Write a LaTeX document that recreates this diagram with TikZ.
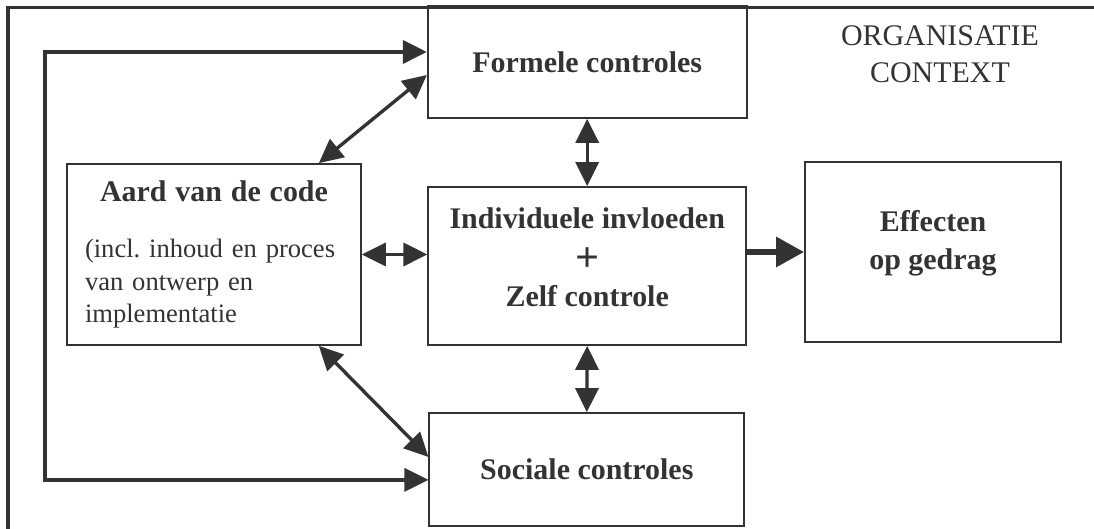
\documentclass[tikz,border=0pt]{standalone}
\usepackage{fontspec}
\setmainfont{Liberation Serif}
\usetikzlibrary{arrows.meta}
\definecolor{ink}{HTML}{333335}

\begin{document}
\begin{tikzpicture}[
  >={Triangle[length=0.6cm,width=0.575cm]},
  box/.style={draw=ink,line width=1.2pt,text=ink,align=center,inner sep=0pt,
    font=\fontsize{21.3}{27.5}\selectfont\bfseries},
  link/.style={draw=ink,line width=2.4pt}
]
\useasboundingbox (0,0) rectangle (27.35,13.225);
% Outer frame, only top and left edge are in view
\draw[ink,line width=2.4pt] (0.2,0) -- (0.2,13.0375) -- (27.35,13.0375);
\node[box,minimum width=7.975cm,minimum height=2.8cm] (formele) at (14.68,11.675) {Formele controles};
\node[box,minimum width=7.95cm,minimum height=3.95cm,text depth=0.45cm] (indiv) at (14.68,6.575)
  {Individuele invloeden\\[3pt]{\fontsize{30}{27.5}\selectfont +}\\[-3pt]Zelf controle};
\node[box,minimum width=7.875cm,minimum height=2.825cm] (sociale) at (14.67,1.4875) {Sociale controles};
\node[box,minimum width=6.4cm,minimum height=4.5cm,text depth=0.6cm] (effect) at (23.325,6.925) {Effecten\\op gedrag};
\node[box,minimum width=7.35cm,minimum height=4.525cm,text width=6.45cm,inner xsep=0.45cm,align=left,
  font=\fontsize{18.9}{23}\selectfont] (aard) at (5.35,6.8625)
  {{\centering\bfseries\fontsize{21.3}{26}\selectfont Aard van de code\par}\vspace{17pt}\raggedright
   (incl.\ inhoud en proces\\van ontwerp en\\implementatie};
\node[text=ink,align=center,font=\fontsize{21.3}{26.3}\selectfont] (context) at (23.5,11.875) {ORGANISATIE\\CONTEXT};
\coordinate (loop) at (1.125,6.6);
% Feedback loop along the left side
\draw[link,<->] ([yshift=0.25cm]formele.west) -| (loop) |- ([yshift=-0.26cm]sociale.west);
\draw[link,<->] ([xshift=-1.075cm]aard.north east) -- ([yshift=-0.325cm]formele.west);
\draw[link,<->] ([xshift=-1.075cm]aard.south east) -- ([yshift=0.3125cm]sociale.west);
\draw[link,<->] (aard.east) -- (aard.east -| indiv.west);
\draw[link,<->] (formele.south) -- (indiv.north);
\draw[link,<->] (indiv.south) -- (sociale.north);
\draw[link,line width=4.5pt,-{Triangle[length=0.7cm,width=0.72cm]}] (effect.west -| indiv.east) -- (effect.west);
\end{tikzpicture}
\end{document}
